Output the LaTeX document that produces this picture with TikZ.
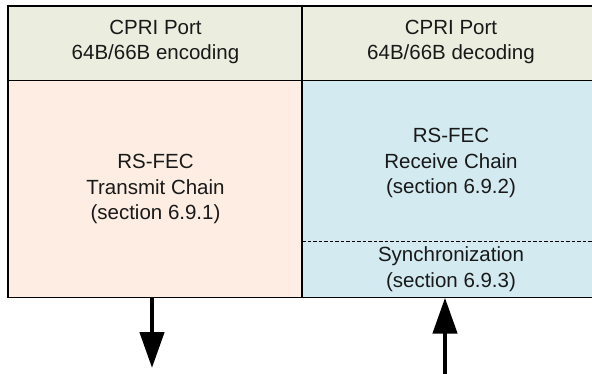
\documentclass[tikz,border=0pt]{standalone}
\usepackage{fontspec}
\setmainfont{Liberation Sans}
\usetikzlibrary{arrows.meta}
\definecolor{hdrfill}{RGB}{235,238,222}
\definecolor{txfill}{RGB}{253,237,227}
\definecolor{rxfill}{RGB}{210,234,240}
\begin{document}
\begin{tikzpicture}[x=1pt,y=-1pt,
  cell/.style={draw=black, line width=1.6pt, rectangle, inner sep=0pt, outer sep=0pt},
  lbl/.style={align=center, font=\fontsize{20.5}{25.5}\selectfont, text=black!90, inner sep=0pt},
  bigarrow/.style={line width=4.6pt, -{Triangle[length=36pt,width=24pt]}}]
\useasboundingbox (0,0) rectangle (592,374);
\begin{scope}
\clip (0,0) rectangle (592,374);
% header cells
\node[cell, fill=hdrfill, minimum width=294pt, minimum height=74.7pt] (h1) at (155,43.3) {};
\node[cell, fill=hdrfill, minimum width=298pt, minimum height=74.7pt] (h2) at (451,43.3) {};
% body cells
\node[cell, fill=txfill, minimum width=294pt, minimum height=217pt] (tx) at (155,189.2) {};
\node[cell, fill=rxfill, minimum width=298pt, minimum height=217pt] (rx) at (451,189.2) {};
% dashed separator
\coordinate (dl) at (302,241.5);
\coordinate (dr) at (600,241.5);
\draw[dashed, dash pattern=on 3.5pt off 2pt, line width=0.7pt] (dl) -- (dr);
% texts
\node[lbl] (t1) at (155.5,42) {CPRI Port\\64B/66B encoding};
\node[lbl] (t2) at (451,42) {CPRI Port\\64B/66B decoding};
\node[lbl] (t3) at (155.5,189) {RS-FEC\\Transmit Chain\\(section 6.9.1)};
\node[lbl] (t4) at (451,163) {RS-FEC\\Receive Chain\\(section 6.9.2)};
\node[lbl] (t5) at (451,269) {Synchronization\\(section 6.9.3)};
% arrows
\coordinate (outtip) at (152,368);
\coordinate (inbase) at (445,376);
\draw[bigarrow] ([xshift=-3pt]tx.south) -- (outtip);
\draw[bigarrow] (inbase) -- ([xshift=-6pt]rx.south);
\end{scope}
\end{tikzpicture}
\end{document}
